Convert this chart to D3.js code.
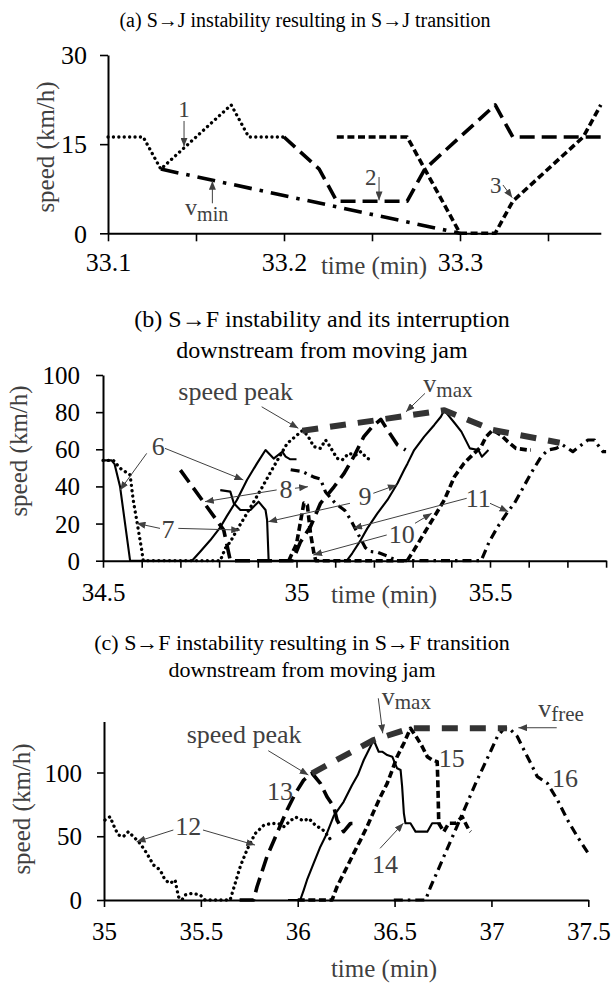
<!DOCTYPE html>
<html>
<head>
<meta charset="utf-8">
<script src="https://cdn.jsdelivr.net/npm/d3@7"></script>
<style>
  body { margin: 0; background: #fff; }
  svg { display: block; }
  svg text { font-family: "Liberation Serif", "Times New Roman", serif; }
</style>
</head>
<body>
<svg id="chart" width="611" height="988"></svg>
<script>
// ---------- Panel (a): S→J instability ----------
const aTicksX = [33.1, 33.15, 33.2, 33.25, 33.3, 33.35];
const aTickLabelsX = ["33.1", "", "33.2", "", "33.3", ""];
const aTicksY = [0, 15, 30];
const a1Time = [33.1, 33.12, 33.13, 33.17, 33.18, 33.2];
const a1Speed = [16.2, 16.2, 10.8, 21.6, 16.2, 16.2];
const a2Time = [33.2, 33.22, 33.23, 33.27, 33.28, 33.32, 33.33, 33.38];
const a2Speed = [16.2, 10.8, 5.4, 5.4, 10.8, 21.6, 16.2, 16.2];
const a3Time = [33.23, 33.27, 33.3, 33.32, 33.33, 33.37, 33.38];
const a3Speed = [16.2, 16.2, 0, 0, 5.4, 16.2, 21.6];
const aVminTime = [33.13, 33.3];
const aVminSpeed = [10.8, 0];

// ---------- Panel (b): S→F instability interrupted ----------
const bTicksX = [34.5, 34.6, 34.7, 34.8, 34.9, 35.0, 35.1, 35.2, 35.3, 35.4, 35.5, 35.6, 35.7, 35.8];
const bTickLabelsX = ["34.5", "", "", "", "", "35", "", "", "", "", "35.5", "", "", ""];
const bTicksY = [0, 20, 40, 60, 80, 100];
const b6Time = [34.5, 34.522, 34.53, 34.544, 34.57, 34.73, 34.751, 34.777, 34.803, 34.82, 34.846, 34.872, 34.898, 34.92, 34.941, 34.963, 34.972, 34.984, 35.0];
const b6Speed = [54, 54, 52, 40, 0, 0, 4.8, 11, 18, 24, 32.7, 43.5, 52.4, 59.6, 55, 58.7, 56, 54.6, 54.6];
const b7Time = [34.5, 34.527, 34.544, 34.57, 34.578, 34.587, 34.6, 34.604, 34.803, 34.816, 34.829, 34.846, 34.872, 34.907, 34.941, 34.976, 35.015, 35.028, 35.045, 35.062, 35.075, 35.084, 35.105, 35.118, 35.135, 35.153, 35.166, 35.183, 35.196];
const b7Speed = [54, 54, 49.8, 46.2, 32.7, 21.9, 5.8, 0, 0, 6.7, 10.2, 16.5, 25.5, 38, 50.6, 63.2, 70, 67.7, 61.4, 60.5, 65, 62.3, 55.1, 54.2, 57.8, 56.9, 58.7, 55.1, 54.2];
const b8Time = [34.7, 34.812, 34.829, 34.99, 35.01, 35.036, 35.062, 35.097, 35.123, 35.148, 35.174, 35.196, 35.218, 35.235, 35.261, 35.282];
const b8Speed = [48.8, 16.5, 0, 0, 10, 18.3, 30.9, 39.8, 47, 56, 66.8, 72.2, 76.1, 70.4, 62.3, 59.6];
const b9Time = [34.803, 34.829, 34.838, 34.855, 34.881, 34.902, 34.92, 34.924, 34.928, 35.13, 35.144, 35.166, 35.183, 35.209, 35.235, 35.261, 35.278, 35.287, 35.304, 35.33, 35.356, 35.373, 35.382, 35.409, 35.426, 35.448, 35.47, 35.479, 35.496];
const b9Speed = [38, 37.2, 30.9, 27.3, 27.3, 31.8, 27.3, 21.9, 0, 0, 4, 11.1, 17.4, 25.5, 32.7, 41.7, 48.8, 52.4, 59.6, 66.8, 73.1, 77.5, 81, 74, 69.5, 60.5, 59.6, 56, 59.6];
const b10Time = [34.98, 35.0, 35.019, 35.028, 35.036, 35.045, 35.05, 35.286, 35.304, 35.33, 35.356, 35.382, 35.408, 35.433, 35.459, 35.477, 35.49, 35.507, 35.528, 35.546, 35.567, 35.598, 35.606];
const b10Speed = [0, 9, 31, 30, 15, 4, 0, 0, 5.8, 14.8, 23.7, 32.7, 45.2, 52.5, 57.8, 61.4, 66.8, 70.4, 67.7, 64.1, 60.5, 59.6, 59.6];
const b11Time = [34.985, 35.015, 35.045, 35.062, 35.075, 35.1, 35.125, 35.14, 35.16, 35.178, 35.19, 35.21, 35.24, 35.26, 35.477, 35.498, 35.52, 35.546, 35.563, 35.58, 35.606, 35.632, 35.65, 35.671, 35.688, 35.701, 35.714, 35.736, 35.753, 35.77, 35.779, 35.792, 35.8];
const b11Speed = [49, 48, 45, 44, 37, 31, 27, 22, 14, 7, 5, 4.5, 2, 0, 0, 10.2, 18.3, 26.4, 30.9, 37.2, 47.1, 56, 59.6, 60.5, 62.3, 60.5, 58.7, 62.3, 65, 65, 62.3, 58.7, 58.7];
const bVmaxTime = [35.015, 35.218, 35.382, 35.507, 35.68];
const bVmaxSpeed = [70, 76, 81, 70.4, 63.5];

// ---------- Panel (c): S→F instability leading to S→F transition ----------
const cTicksX = [35, 35.5, 36, 36.5, 37, 37.5];
const cTickLabelsX = ["35", "35.5", "36", "36.5", "37", "37.5"];
const cTicksY = [0, 50, 100];
const c12Time = [35.005, 35.031, 35.057, 35.074, 35.1, 35.126, 35.152, 35.186, 35.221, 35.255, 35.29, 35.315, 35.341, 35.367, 35.384, 35.402, 35.419, 35.453, 35.496, 35.522, 35.651, 35.675, 35.705, 35.74, 35.78, 35.824, 35.86, 35.9, 35.93, 35.96, 35.99, 36.03, 36.057, 36.09, 36.13, 36.16, 36.17];
const c12Speed = [62.7, 65.3, 56, 51, 49.7, 53.6, 49.7, 44.4, 36.6, 27.5, 23.5, 15.7, 13, 15.7, 2.6, 0, 4, 5.2, 4, 0, 0, 12, 27, 40, 52, 58.5, 60, 60, 57.5, 62, 65, 62, 64, 58.8, 55, 49.7, 47];
const c13Time = [35.7, 35.772, 35.79, 35.841, 35.893, 35.945, 35.988, 36.031, 36.074, 36.117, 36.151, 36.186, 36.203, 36.237, 36.272, 36.298];
const c13Speed = [0, 0, 10.4, 34, 52.3, 70.6, 83.7, 94.1, 99.4, 91.5, 81, 73.2, 62.7, 53.6, 60, 60];
const c14Time = [35.95, 36.013, 36.031, 36.048, 36.082, 36.117, 36.15, 36.186, 36.237, 36.28, 36.31, 36.341, 36.375, 36.392, 36.418, 36.436, 36.462, 36.488, 36.513, 36.531, 36.539, 36.548, 36.556, 36.582, 36.608, 36.669, 36.694, 36.737];
const c14Speed = [0, 0, 7.8, 15.7, 28.8, 41.8, 52, 66, 77, 90, 98, 109.8, 120.2, 125.5, 116.3, 116.3, 113.7, 112.4, 103.3, 102, 88.9, 68, 60.2, 60.2, 53.6, 53.6, 60.2, 60.2];
const c15Time = [36.0, 36.177, 36.203, 36.229, 36.255, 36.289, 36.324, 36.358, 36.392, 36.427, 36.462, 36.488, 36.513, 36.548, 36.582, 36.617, 36.643, 36.669, 36.694, 36.72, 36.723, 36.728, 36.754, 36.78, 36.815, 36.849, 36.866, 36.884, 36.893];
const c15Speed = [0, 0, 10.4, 18.3, 26.1, 36.6, 47, 57.5, 69.3, 81, 91.5, 102, 112.4, 122.9, 134.7, 126.8, 120.2, 112.4, 109.8, 108.5, 94, 60.2, 53.6, 60.2, 60.2, 65.3, 60.2, 54.9, 53.6];
const c16Time = [36.496, 36.66, 36.685, 36.72, 36.754, 36.8, 36.84, 36.88, 36.92, 36.96, 37.0, 37.03, 37.065, 37.091, 37.134, 37.168, 37.203, 37.237, 37.289, 37.341, 37.393, 37.444, 37.5];
const c16Speed = [0, 0, 10, 22, 34, 50, 64, 78, 92, 105, 118, 128, 134.7, 134.7, 128.1, 117.6, 107.2, 96.7, 91.5, 78.4, 62.7, 49.6, 36.6];
const cVmaxTime = [36.074, 36.392, 36.582, 37.08];
const cVmaxSpeed = [99.4, 125.5, 134.7, 134.7];

// ---------- drawing ----------
const svg = d3.select("#chart");
const INK = "#000";
const GREY = "#404040";

// arrowhead used by every annotation pointer
svg.append("defs").append("marker")
  .attr("id", "head")
  .attr("viewBox", "0 0 10 8")
  .attr("refX", 10).attr("refY", 4)
  .attr("markerWidth", 9).attr("markerHeight", 7)
  .attr("markerUnits", "userSpaceOnUse")
  .attr("orient", "auto")
  .append("path").attr("d", "M0,0L10,4L0,8Z").attr("fill", GREY);

const STYLES = {
  solid:     { width: 2.1, dash: null, cap: "butt" },
  dotted:    { width: 3.3, dash: "0.1,5.3", cap: "round" },
  longDash:  { width: 3.6, dash: "15,7", cap: "butt" },
  shortDash: { width: 3.6, dash: "7,3.6", cap: "butt" },
  dashDot:   { width: 3.2, dash: "9,5,2.5,5", cap: "butt" },
  vminDash:  { width: 3.6, dash: "18,8,3.5,8", cap: "butt" },
  envelope:  { width: 6, dash: "16,12", cap: "butt", color: "#333" }
};

function drawPanel(cfg) {
  const x = d3.scaleLinear().domain(cfg.xDomain).range(cfg.xRange);
  const y = d3.scaleLinear().domain(cfg.yDomain).range(cfg.yRange);
  const g = svg.append("g");

  cfg.title.forEach(t => {
    g.append("text").attr("x", t.x).attr("y", t.y)
      .attr("text-anchor", "middle").attr("font-size", cfg.titleSize)
      .attr("fill", INK).text(t.text);
  });

  // series
  const line = d3.line().x(d => x(d[0])).y(d => y(d[1]));
  cfg.series.forEach(s => {
    const st = STYLES[s.style];
    g.append("path")
      .datum(d3.zip(s.time, s.speed))
      .attr("d", line)
      .attr("fill", "none")
      .attr("stroke", st.color || INK)
      .attr("stroke-width", st.width)
      .attr("stroke-dasharray", st.dash)
      .attr("stroke-linecap", st.cap)
      .attr("stroke-linejoin", "round");
  });

  // axes
  const xAxis = d3.axisBottom(x).tickValues(cfg.xTicks)
    .tickFormat((d, i) => cfg.xLabels[i]).tickSize(cfg.tickLen).tickSizeOuter(0);
  const gx = g.append("g").attr("transform", `translate(0,${cfg.yRange[0]})`).call(xAxis);
  gx.select(".domain").attr("stroke", INK).attr("stroke-width", 2);
  gx.selectAll(".tick line").attr("stroke", INK).attr("stroke-width", 1.6);
  gx.selectAll(".tick text").attr("y", cfg.xLabelY).attr("dy", 0)
    .attr("font-size", cfg.tickSize).attr("fill", INK);

  const yAxis = d3.axisLeft(y).tickValues(cfg.yTicks).tickSize(cfg.tickLen).tickSizeOuter(0)
    .tickPadding(cfg.yPad);
  const gy = g.append("g").attr("transform", `translate(${cfg.xRange[0]},0)`).call(yAxis);
  gy.select(".domain").attr("stroke", INK).attr("stroke-width", 2);
  gy.selectAll(".tick line").attr("stroke", INK).attr("stroke-width", 1.6);
  gy.selectAll(".tick text").attr("font-size", cfg.tickSize)
    .attr("fill", INK).attr("dy", "0.34em");

  // axis titles
  g.append("text").attr("x", cfg.xTitle[0]).attr("y", cfg.xTitle[1])
    .attr("text-anchor", "middle").attr("font-size", cfg.axisTitleSize)
    .attr("fill", GREY).text("time (min)");
  g.append("text")
    .attr("transform", `translate(${cfg.yTitle[0]},${cfg.yTitle[1]}) rotate(-90)`)
    .attr("text-anchor", "middle").attr("font-size", cfg.axisTitleSize)
    .attr("fill", GREY).text("speed (km/h)");

  // annotations (positions given in data units)
  cfg.notes.forEach(n => {
    const t = g.append("text").attr("x", x(n.at[0])).attr("y", y(n.at[1]))
      .attr("text-anchor", n.anchor || "middle")
      .attr("font-size", n.size).attr("fill", GREY);
    t.append("tspan").text(n.text);
    if (n.sub) {
      t.append("tspan").attr("font-size", n.subSize).attr("dy", n.subShift).text(n.sub);
    }
    (n.arrows || []).forEach(a => {
      g.append("line")
        .attr("x1", x(a[0])).attr("y1", y(a[1]))
        .attr("x2", x(a[2])).attr("y2", y(a[3]))
        .attr("stroke", GREY).attr("stroke-width", 1)
        .attr("marker-end", "url(#head)");
    });
  });
}

// Panel (a)
drawPanel({
  xDomain: [33.1, 33.38], xRange: [108, 600.8],
  yDomain: [0, 30], yRange: [233.3, 55],
  xTicks: aTicksX, xLabels: aTickLabelsX, yTicks: aTicksY,
  tickLen: 8, yPad: 13, xLabelY: 38, tickSize: 26, axisTitleSize: 25,
  title: [{ text: "(a) S→J instability resulting in S→J transition", x: 305, y: 27 }],
  titleSize: 20,
  xTitle: [374, 274], yTitle: [54, 147],
  series: [
    { time: a1Time, speed: a1Speed, style: "dotted" },
    { time: aVminTime, speed: aVminSpeed, style: "vminDash" },
    { time: a2Time, speed: a2Speed, style: "longDash" },
    { time: a3Time, speed: a3Speed, style: "shortDash" }
  ],
  notes: [
    { text: "1", at: [33.1432, 19.62], size: 23, arrows: [[33.1432, 18.9, 33.1432, 14.6]] },
    { text: "v", sub: "min", subSize: 20, subShift: 6, anchor: "start", at: [33.1438, 3.08], size: 24,
      arrows: [[33.1593, 5.05, 33.1593, 8.8]] },
    { text: "2", at: [33.2493, 8.13], size: 23, arrows: [[33.254, 9.47, 33.254, 5.55]] },
    { text: "3", at: [33.3203, 6.78], size: 23, arrows: [[33.3244, 8.13, 33.3297, 6.0]] }
  ]
});

// Panel (b)
drawPanel({
  xDomain: [34.5, 35.8], xRange: [103, 606.1],
  yDomain: [0, 100], yRange: [560.7, 375],
  xTicks: bTicksX, xLabels: bTickLabelsX, yTicks: bTicksY,
  tickLen: 7, yPad: 16, xLabelY: 40, tickSize: 25, axisTitleSize: 25,
  title: [
    { text: "(b) S→F instability and its interruption", x: 322, y: 327 },
    { text: "downstream from moving jam", x: 322, y: 358 }
  ],
  titleSize: 24,
  xTitle: [384, 603], yTitle: [27, 451],
  series: [
    { time: b6Time, speed: b6Speed, style: "solid" },
    { time: b7Time, speed: b7Speed, style: "dotted" },
    { time: b8Time, speed: b8Speed, style: "longDash" },
    { time: b9Time, speed: b9Speed, style: "solid" },
    { time: b10Time, speed: b10Speed, style: "shortDash" },
    { time: b11Time, speed: b11Speed, style: "dashDot" },
    { time: bVmaxTime, speed: bVmaxSpeed, style: "envelope" }
  ],
  notes: [
    { text: "speed peak", anchor: "start", at: [34.6946, 86.5], size: 26,
      arrows: [[34.910, 82.9, 35.0047, 71.3]] },
    { text: "6", at: [34.6429, 56.9], size: 26,
      arrows: [[34.6129, 57.8, 34.5439, 38.0], [34.6602, 60.5, 34.8625, 43.5]] },
    { text: "7", at: [34.668, 12.2], size: 26,
      arrows: [[34.6473, 17.4, 34.5871, 20.1], [34.6946, 17.4, 34.854, 16.5]] },
    { text: "8", at: [34.9729, 33.8], size: 26,
      arrows: [[34.9488, 38.1, 34.7636, 31.8], [34.9961, 39.0, 35.0295, 39.85]] },
    { text: "9", at: [35.177, 30.0], size: 26,
      arrows: [[35.1985, 36.3, 35.2589, 40.8], [35.1382, 30.9, 34.9271, 21.0]] },
    { text: "10", at: [35.2718, 9.53], size: 26,
      arrows: [[35.2331, 13.84, 35.0434, 3.07], [35.3062, 20.14, 35.3493, 25.5]] },
    { text: "11", at: [35.4698, 29.1], size: 26,
      arrows: [[35.4398, 33.6, 35.1468, 17.45], [35.5, 30.9, 35.5473, 26.4]] },
    { text: "v", sub: "max", subSize: 21, subShift: 5, anchor: "start", at: [35.3277, 91.0], size: 26,
      arrows: [[35.332, 90.1, 35.283, 80.2]] }
  ]
});

// Panel (c)
drawPanel({
  xDomain: [35, 37.5], xRange: [104, 588.3],
  yDomain: [0, 140], yRange: [900, 721.5],
  xTicks: cTicksX, xLabels: cTickLabelsX, yTicks: cTicksY,
  tickLen: 7, yPad: 15, xLabelY: 40, tickSize: 25, axisTitleSize: 25,
  title: [
    { text: "(c) S→F instability resulting in S→F transition", x: 302, y: 650 },
    { text: "downstream from moving jam", x: 302, y: 677 }
  ],
  titleSize: 22,
  xTitle: [384, 977], yTitle: [30, 809],
  series: [
    { time: c12Time, speed: c12Speed, style: "dotted" },
    { time: c13Time, speed: c13Speed, style: "longDash" },
    { time: c14Time, speed: c14Speed, style: "solid" },
    { time: c15Time, speed: c15Speed, style: "shortDash" },
    { time: c16Time, speed: c16Speed, style: "dashDot" },
    { time: cVmaxTime, speed: cVmaxSpeed, style: "envelope" }
  ],
  notes: [
    { text: "speed peak", anchor: "start", at: [35.427, 122.9], size: 26,
      arrows: [[35.848, 117.1, 36.055, 98.0]] },
    { text: "13", at: [35.909, 78.4], size: 26 },
    { text: "12", at: [35.435, 51.0], size: 26,
      arrows: [[35.358, 54.9, 35.1688, 45.7], [35.511, 54.9, 35.7796, 43.1]] },
    { text: "14", at: [36.4507, 21.2], size: 26,
      arrows: [[36.425, 40.5, 36.5452, 60.2]] },
    { text: "15", at: [36.795, 104.5], size: 26 },
    { text: "16", at: [37.38, 88.9], size: 26 },
    { text: "v", sub: "max", subSize: 21, subShift: 4, anchor: "start", at: [36.4337, 152.9], size: 26,
      arrows: [[36.416, 158.2, 36.4388, 130.7]] },
    { text: "v", sub: "free", subSize: 21, subShift: 4, anchor: "start", at: [37.242, 143.8], size: 26,
      arrows: [[37.337, 135.1, 37.139, 135.1]] }
  ]
});
</script>
</body>
</html>
